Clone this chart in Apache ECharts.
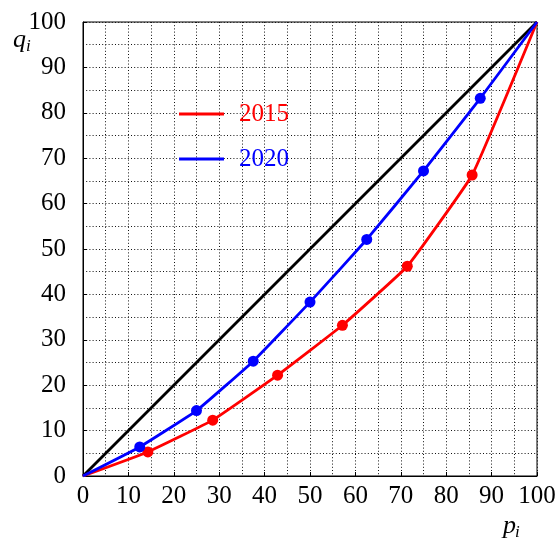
<!DOCTYPE html>
<html><head><meta charset="utf-8">
<script src="https://cdn.jsdelivr.net/npm/echarts@6/dist/echarts.min.js"></script>
<style>html,body{margin:0;padding:0;background:#fff}#c{width:558px;height:542px}</style>
</head><body><div id="c"></div>
<script>
// Data
const p2015 = [0, 14.29, 28.57, 42.86, 57.14, 71.43, 85.71, 100];
const q2015 = [0, 5.3, 12.3, 22.2, 33.2, 46.2, 66.3, 100];
const p2020 = [0, 12.5, 25, 37.5, 50, 62.5, 75, 87.5, 100];
const q2020 = [0, 6.4, 14.4, 25.3, 38.3, 52.1, 67.2, 83.2, 100];
const equalityP = [0, 100];
const equalityQ = [0, 100];
const seriesNames = ['2015', '2020'];

const SERIF = 'Liberation Serif';
function build(px, qy) {
  return px.map((x, i) => {
    const item = { value: [x, qy[i]] };
    if (i === 0 || i === px.length - 1) item.symbol = 'none';
    return item;
  });
}
const dotted = { color: '#111', width: 1, type: [1, 2.2] };
const chart = echarts.init(document.getElementById('c'), null, { renderer: 'canvas' });
chart.setOption({
  animation: false,
  backgroundColor: '#fff',
  textStyle: { fontFamily: SERIF },
  grid: { left: 83, right: 21, top: 22, bottom: 66, outerBoundsMode: 'none', containLabel: false,
    show: true, borderColor: '#000', borderWidth: 1, backgroundColor: 'transparent' },
  xAxis: {
    type: 'value', min: 0, max: 100, interval: 10,
    axisLine: { show: true, lineStyle: { color: '#000', width: 1 } },
    axisTick: { show: true, inside: true, length: 4, lineStyle: { color: '#000' } },
    axisLabel: { show: true, color: '#000', fontFamily: SERIF, fontSize: 25, margin: 8 },
    splitLine: { show: true, lineStyle: dotted },
    minorTick: { show: false, splitNumber: 2 },
    minorSplitLine: { show: true, lineStyle: dotted }
  },
  yAxis: {
    type: 'value', min: 0, max: 100, interval: 10,
    axisLine: { show: true, lineStyle: { color: '#000', width: 1 } },
    axisTick: { show: true, inside: true, length: 4, lineStyle: { color: '#000' } },
    axisLabel: { show: true, color: '#000', fontFamily: SERIF, fontSize: 25, margin: 17 },
    splitLine: { show: true, lineStyle: dotted },
    minorTick: { show: false, splitNumber: 2 },
    minorSplitLine: { show: true, lineStyle: dotted }
  },
  legend: {
    orient: 'vertical', left: 174, top: 92, itemWidth: 45, itemHeight: 3, itemGap: 11,
    icon: 'rect',
    data: [
      { name: seriesNames[0], textStyle: { color: '#ff0000' } },
      { name: seriesNames[1], textStyle: { color: '#0000ff' } }
    ],
    textStyle: { fontFamily: SERIF, fontSize: 25, lineHeight: 34, padding: [0, 0, 0, 10] }
  },
  series: [
    {
      name: 'equality', type: 'line', data: equalityP.map((x, i) => [x, equalityQ[i]]),
      showSymbol: false, symbol: 'none', lineStyle: { color: '#000', width: 2.8 }, z: 3
    },
    {
      name: seriesNames[0], type: 'line', data: build(p2015, q2015), smooth: 0.1,
      symbol: 'circle', symbolSize: 11, color: '#ff0000',
      itemStyle: { color: '#ff0000' }, lineStyle: { color: '#ff0000', width: 2.8 }, z: 4
    },
    {
      name: seriesNames[1], type: 'line', data: build(p2020, q2020), smooth: 0.1,
      symbol: 'circle', symbolSize: 11, color: '#0000ff',
      itemStyle: { color: '#0000ff' }, lineStyle: { color: '#0000ff', width: 2.8 }, z: 5
    }
  ],
  graphic: [
    { type: 'text', style: { x: 13, y: 40, text: 'q', fontFamily: SERIF, fontStyle: 'italic', fontSize: 26, fill: '#000', verticalAlign: 'middle' } },
    { type: 'text', style: { x: 26, y: 47, text: 'i', fontFamily: SERIF, fontStyle: 'italic', fontSize: 17, fill: '#000', verticalAlign: 'middle' } },
    { type: 'text', style: { x: 503, y: 526, text: 'p', fontFamily: SERIF, fontStyle: 'italic', fontSize: 26, fill: '#000', verticalAlign: 'middle' } },
    { type: 'text', style: { x: 515, y: 533, text: 'i', fontFamily: SERIF, fontStyle: 'italic', fontSize: 17, fill: '#000', verticalAlign: 'middle' } }
  ]
});
</script></body></html>
